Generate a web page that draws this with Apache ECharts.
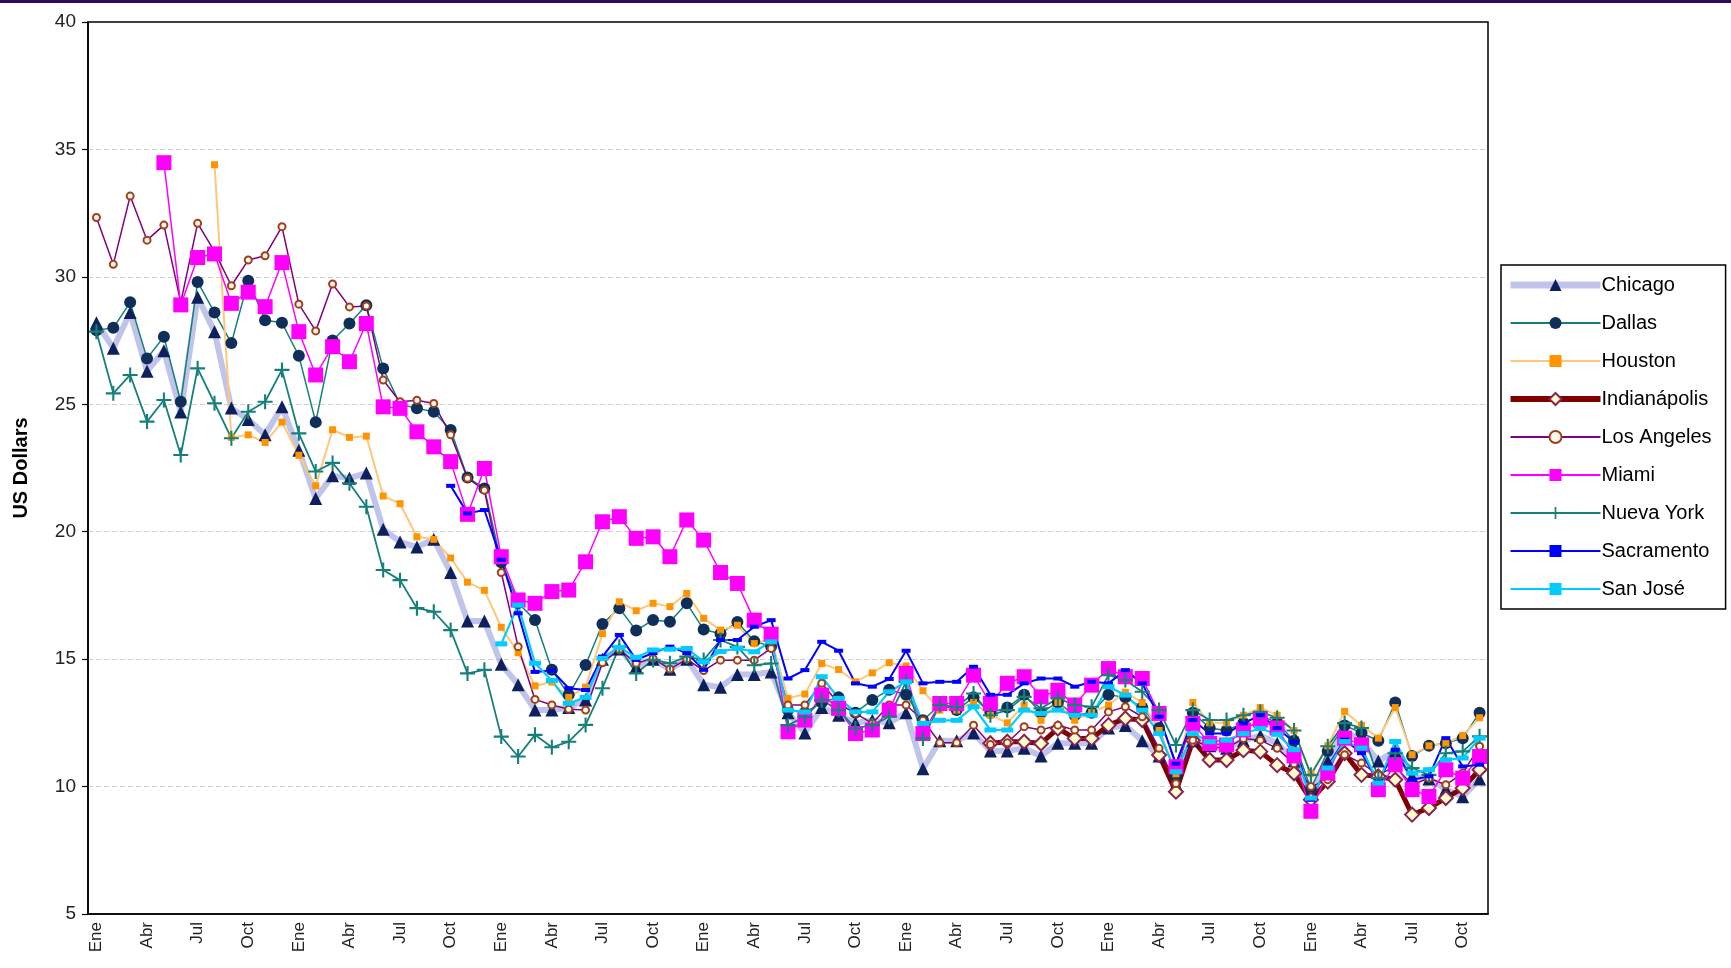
<!DOCTYPE html>
<html>
<head>
<meta charset="utf-8">
<title>US Dollars por ciudad</title>
<script src="https://cdn.jsdelivr.net/npm/echarts@6/dist/echarts.min.js"></script>
<style>
    html, body { margin: 0; padding: 0; background: #fff; }
    #chart { width: 1731px; height: 968px; }
</style>
</head>
<body>
<div id="chart"></div>
<script>
// meses (solo se muestran Ene, Abr, Jul, Oct)
const monthNames = ['Ene', 'Feb', 'Mar', 'Abr', 'May', 'Jun', 'Jul', 'Ago', 'Sep', 'Oct', 'Nov', 'Dic'];
const numMonths = 83;
const categories = [];
for (let i = 0; i < numMonths; i++) {
    categories.push(monthNames[i % 12]);
}

const chicago = [28.2, 27.2, 28.6, 26.3, 27.1, 24.7, 29.2, 27.85, 24.85, 24.4, 23.8, 24.9, 23.2, 21.3, 22.2,
    22.1, 22.3, 20.1, 19.6, 19.4, 19.7, 18.4, 16.5, 16.5, 14.8, 14.0, 13.0, 13.0, 13.1, 13.4,
    15.0, 15.4, 14.7, 15.0, 14.6, 15.0, 14.0, 13.9, 14.4, 14.4, 14.5, 12.9, 12.1, 13.1, 12.8,
    12.5, 12.6, 12.5, 12.9, 10.7, 11.8, 11.8, 12.1, 11.4, 11.4, 11.5, 11.2, 11.7, 11.7, 11.7,
    12.3, 12.4, 11.8, 11.2, 10.1, 11.8, 11.6, 11.5, 11.8, 12.0, 11.7, 11.0, 9.8, 11.0, 12.2,
    11.8, 11.0, 11.4, 10.4, 10.3, 9.9, 9.6, 10.3];

const dallas = [27.9, 28.0, 29.0, 26.8, 27.65, 25.1, 29.8, 28.6, 27.4, 29.85, 28.3, 28.2, 26.9, 24.3, 27.5,
    28.17, 28.89, 26.4, 25.0, 24.84, 24.71, 23.99, 22.13, 21.7, 18.8, 17.2, 16.54, 14.58, 13.6, 14.77,
    16.38, 17.0, 16.12, 16.54, 16.47, 17.19, 16.16, 16.0, 16.46, 15.7, 15.5, 13.0, 12.9, 13.3, 13.5,
    12.9, 13.4, 13.8, 13.6, 12.6, 13.2, 13.0, 13.5, 12.9, 13.1, 13.6, 12.9, 13.3, 12.8, 12.9,
    13.6, 13.5, 13.1, 12.3, 10.4, 12.9, 12.3, 12.2, 12.5, 12.8, 12.5, 11.8, 9.9, 11.4, 12.4,
    12.1, 11.8, 13.3, 11.2, 11.6, 11.7, 11.9, 12.9];

const houston = [null, null, null, null, null, null, null, 34.4, 23.7, 23.8, 23.5, 24.3, 23.0, 21.8, 24.0,
    23.7, 23.75, 21.4, 21.1, 19.8, 19.7, 18.97, 18.02, 17.7, 16.25, 15.25, 13.95, 14.1, 13.5, 13.9,
    16.0, 17.25, 16.9, 17.19, 17.06, 17.58, 16.6, 16.14, 16.33, 15.61, 15.8, 13.46, 13.63, 14.83, 14.59,
    14.11, 14.46, 14.86, 14.73, 13.76, 13.0, 13.0, 13.3, 12.8, 12.5, 13.2, 12.6, 13.3, 12.6, 12.9,
    13.2, 13.7, 13.3, 12.2, 10.5, 13.3, 12.5, 12.5, 12.8, 13.1, 12.8, 12.2, 10.5, 11.6, 12.95,
    12.4, 11.9, 13.1, 11.25, 11.6, 11.7, 12.0, 12.7];

const indianapolis = [null, null, null, null, null, null, null, null, null, null, null, null, null, null, null,
    null, null, null, null, null, null, null, null, null, null, null, null, null, null, null,
    null, null, null, null, null, null, null, null, null, null, null, null, null, null, null,
    null, null, null, null, null, null, null, null, 11.7, 11.76, 11.76, 11.69, 12.28, 11.89, 11.89,
    12.41, 12.67, 12.61, 11.24, 9.8, 11.82, 11.04, 11.04, 11.43, 11.37, 10.84, 10.52, 9.48, 10.2, 11.31,
    10.46, 10.4, 10.27, 8.9, 9.16, 9.55, 9.94, 10.66];

const losAngeles = [32.33, 30.49, 33.17, 31.44, 32.03, 29.0, 32.1, 31.0, 29.65, 30.66, 30.83, 31.97, 28.93, 27.88, 29.72,
    28.82, 28.86, 25.95, 25.1, 25.16, 25.03, 23.8, 22.1, 21.63, 18.4, 15.49, 13.42, 13.2, 13.03, 13.0,
    14.86, 15.38, 14.84, 15.03, 14.61, 15.0, 14.55, 14.96, 14.96, 14.96, 15.42, 13.2, 13.2, 14.05, 13.26,
    12.87, 12.48, 13.2, 13.2, 12.6, 11.72, 11.72, 12.41, 11.65, 11.72, 12.35, 12.22, 12.41, 12.22, 12.22,
    12.93, 13.13, 12.74, 11.5, 10.12, 11.82, 11.56, 11.5, 11.89, 11.82, 11.5, 10.9, 10.0, 10.27, 11.25,
    10.92, 10.46, 10.79, 10.07, 10.33, 10.07, 10.53, 11.58];

const miami = [null, null, null, null, 34.48, 28.9, 30.76, 30.9, 28.96, 29.4, 28.83, 30.56, 27.85, 26.15, 27.26,
    26.67, 28.17, 24.9, 24.84, 23.92, 23.33, 22.75, 20.68, 22.48, 19.02, 17.32, 17.19, 17.65, 17.71, 18.82,
    20.39, 20.59, 19.74, 19.8, 19.02, 20.46, 19.67, 18.4, 17.97, 16.53, 15.98, 12.15, 12.61, 13.59, 13.07,
    12.08, 12.22, 13.0, 14.44, 12.08, 13.26, 13.26, 14.37, 13.26, 14.05, 14.31, 13.52, 13.78, 13.2, 13.98,
    14.63, 14.31, 14.24, 12.87, 10.78, 12.48, 11.69, 11.63, 12.22, 12.61, 12.3, 11.2, 9.03, 10.53, 11.9,
    11.64, 9.88, 10.86, 9.88, 9.61, 10.66, 10.33, 11.18];

const nuevaYork = [27.85, 25.43, 26.15, 24.32, 25.17, 23.01, 26.41, 25.04, 23.67, 24.71, 25.1, 26.35, 23.86, 22.36, 22.7,
    21.9, 20.98, 18.5, 18.1, 17.0, 16.86, 16.14, 14.44, 14.58, 11.96, 11.18, 12.03, 11.54, 11.76, 12.42,
    13.86, 15.49, 14.44, 14.97, 14.84, 15.1, 14.97, 15.75, 15.48, 14.76, 14.83, 12.41, 12.74, 13.39, 13.0,
    12.28, 12.41, 12.74, 14.11, 11.89, 13.2, 13.13, 13.65, 12.8, 13.0, 13.52, 13.07, 13.46, 13.2, 13.13,
    14.37, 14.18, 13.72, 13.0, 11.63, 13.0, 12.61, 12.61, 12.8, 12.93, 12.7, 12.2, 10.46, 11.58, 12.49,
    12.3, 10.33, 11.31, 10.73, 10.46, 11.31, 11.38, 11.97];

const sacramento = [null, null, null, null, null, null, null, null, null, null, null, null, null, null, null,
    null, null, null, null, null, null, 21.8, 20.72, 20.85, 18.9, 16.8, 14.5, 14.55, 13.86, 13.79,
    15.1, 15.95, 14.97, 15.24, 15.49, 15.24, 14.58, 15.75, 15.75, 16.27, 16.53, 14.24, 14.57, 15.68, 15.33,
    14.05, 13.92, 14.22, 15.33, 14.05, 14.11, 14.11, 14.7, 13.6, 13.6, 14.05, 14.24, 14.24, 13.92, 14.11,
    14.05, 14.57, 14.05, 12.74, 10.9, 12.61, 12.08, 12.08, 12.48, 12.8, 12.3, 11.75, 9.48, 10.79, 11.84,
    11.31, 10.2, 11.44, 10.27, 10.4, 11.9, 10.79, 10.86];

const sanJose = [null, null, null, null, null, null, null, null, null, null, null, null, null, null, null,
    null, null, null, null, null, null, null, null, null, 15.6, 17.12, 14.84, 14.16, 13.27, 13.5,
    15.03, 15.46, 15.07, 15.36, 15.39, 15.42, 14.9, 15.3, 15.42, 15.29, 15.68, 13.0, 12.93, 14.31, 13.46,
    12.93, 12.93, 13.72, 14.11, 12.48, 12.6, 12.6, 13.13, 12.22, 12.22, 13.0, 12.87, 13.0, 12.8, 12.8,
    13.92, 13.59, 13.0, 12.08, 10.58, 12.08, 11.76, 11.82, 12.08, 12.28, 12.05, 11.45, 9.55, 10.73, 11.77,
    11.51, 10.14, 11.77, 10.53, 10.66, 11.05, 11.12, 11.9];

const plusSymbol = 'path://M4.3,0H5.7V10H4.3Z M0,4.3H10V5.7H0Z';

function mkSeries(name, data, lineColor, lineWidth, symbol, size, fill, border, bw) {
    return {
        name: name,
        type: 'line',
        data: data,
        symbol: symbol,
        symbolSize: size,
        showAllSymbol: true,
        connectNulls: false,
        animation: false,
        lineStyle: { color: lineColor, width: lineWidth },
        itemStyle: { color: fill, borderColor: border || fill, borderWidth: bw || 0 },
        emphasis: { disabled: true }
    };
}

var myChart = echarts.init(document.getElementById('chart'));
var option = {
    backgroundColor: '#fff',
    animation: false,
    textStyle: { fontFamily: 'Liberation Sans, Arial, sans-serif' },
    grid: {
        left: 88, right: 243, top: 22, bottom: 54,
        show: true, borderColor: '#000', borderWidth: 1.5, backgroundColor: '#fff'
    },
    legend: {
        orient: 'vertical',
        left: 1501, top: 265,
        itemWidth: 90, itemHeight: 15, itemGap: 18,
        padding: [10, 14, 10, 6],
        borderColor: '#000', borderWidth: 1.5,
        backgroundColor: '#fff',
        textStyle: { fontSize: 20, color: '#000', padding: [0, 0, 0, -4] },
        data: [
            { name: 'Chicago', lineStyle: { width: 7 } },
            { name: 'Dallas' },
            { name: 'Houston' },
            { name: 'Indianápolis', lineStyle: { width: 6 } },
            { name: 'Los Angeles' },
            { name: 'Miami' },
            { name: 'Nueva York' },
            { name: 'Sacramento' },
            { name: 'San José' }
        ]
    },
    xAxis: {
        type: 'category',
        data: categories,
        boundaryGap: true,
        axisLine: { lineStyle: { color: '#000', width: 1.5 } },
        axisTick: { interval: 0, length: 6, lineStyle: { color: '#000', width: 1.2 } },
        axisLabel: {
            interval: function (i) { return i % 3 === 0; },
            rotate: 90, fontSize: 17, color: '#222', margin: 8
        },
        splitLine: { show: false }
    },
    yAxis: {
        type: 'value',
        min: 5, max: 40, interval: 5,
        name: 'US Dollars',
        nameLocation: 'middle',
        nameGap: 57,
        nameTextStyle: { fontSize: 20, fontWeight: 'bold', color: '#000' },
        axisLine: { show: true, lineStyle: { color: '#000', width: 1.5 } },
        axisTick: { show: true, length: 6, lineStyle: { color: '#000', width: 1.2 } },
        axisLabel: { fontSize: 19, color: '#222', margin: 12 },
        splitLine: {
            showMinLine: false, showMaxLine: false,
            lineStyle: { color: '#cfcfcf', type: [5, 3], width: 1 }
        }
    },
    graphic: [{
        type: 'rect',
        shape: { x: 0, y: 0, width: 1731, height: 3 },
        style: { fill: '#2e0a5c' },
        z: 100
    }],
    series: [
        mkSeries('Chicago', chicago, 'rgba(160,164,222,0.65)', 6, 'triangle', 13, '#0d1f5c'),
        mkSeries('Dallas', dallas, '#12807a', 1.5, 'circle', 12, '#0f2f5a'),
        mkSeries('Houston', houston, '#ffc77a', 2, 'rect', 7, '#ff9400'),
        mkSeries('Indianápolis', indianapolis, '#800000', 5, 'diamond', 14, '#ffffcc', '#8b2252', 2),
        mkSeries('Los Angeles', losAngeles, '#800080', 1.5, 'circle', 7, '#fff8ee', '#a0401a', 2),
        mkSeries('Miami', miami, '#ff00ff', 1.5, 'rect', 15, '#ff00ff'),
        mkSeries('Nueva York', nuevaYork, '#15807a', 1.8, plusSymbol, 15, '#15807a'),
        mkSeries('Sacramento', sacramento, '#0000ff', 2, 'rect', [9, 4], '#0000ff'),
        mkSeries('San José', sanJose, '#00ccff', 2.2, 'rect', [12, 5], '#00ccff')
    ]
};
myChart.setOption(option);
</script>
</body>
</html>
